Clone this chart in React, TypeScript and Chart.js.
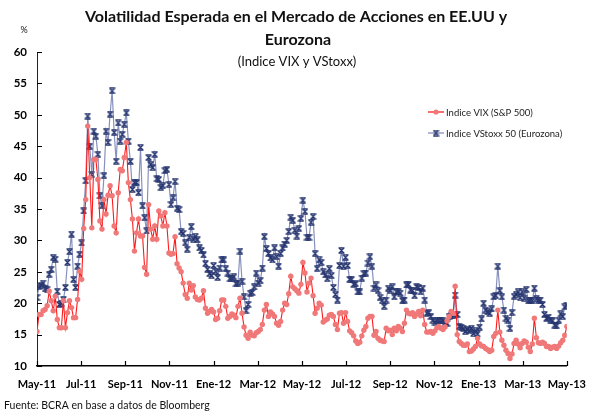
import { useEffect, useRef } from "react";
import { Chart, registerables } from "chart.js";

Chart.register(...registerables);

const tickLabels = ["May-11", "Jul-11", "Sep-11", "Nov-11", "Ene-12", "Mar-12", "May-12", "Jul-12", "Sep-12", "Nov-12", "Ene-13", "Mar-13", "May-13"];
const seriesNames = ["Indice VIX (S&P 500)", "Indice VStoxx 50 (Eurozona)"];
const yTicks = [10, 15, 20, 25, 30, 35, 40, 45, 50, 55, 60];

// Indice VIX (S&P 500), sampled every second trading day, May-11 .. May-13
const vix = [
  15.5, 18.2, 18.2, 18.8, 19.0, 19.6, 21.9, 20.4, 18.8, 21.1,
  17.4, 16.1, 16.1, 20.4, 16.1, 18.5, 20.4, 19.3, 17.7, 17.7,
  20.6, 25.1, 23.8, 31.9, 36.5, 48.2, 40.0, 32.0, 42.9, 42.9,
  39.7, 33.1, 31.8, 36.5, 34.2, 37.2, 38.7, 37.1, 32.3, 31.2,
  37.6, 41.3, 41.1, 43.2, 45.6, 39.2, 36.5, 33.4, 28.3, 31.2,
  33.4, 30.7, 30.7, 25.7, 24.6, 35.7, 31.8, 30.2, 32.3, 30.2,
  34.7, 33.9, 32.3, 34.4, 32.3, 28.0, 27.8,
  27.9, 30.6, 26.3, 25.6, 25.0, 23.2, 21.4, 20.8, 23.2, 22.1,
  22.8, 21.0, 20.6, 20.5, 20.8, 22.0, 19.2, 18.4, 18.7, 19.0,
  18.6, 17.4, 17.6, 18.8, 20.5, 20.5, 19.5, 17.6, 17.9, 18.3,
  18.1, 17.7, 19.5, 20.8, 18.4, 16.2, 14.9, 14.4, 15.4, 14.9,
  14.8, 15.3, 15.5, 15.8, 16.6, 18.9, 19.8, 17.9, 18.6, 18.3,
  17.9, 16.8, 16.5, 17.1, 18.9, 20.0, 19.8, 21.5, 24.3, 22.6,
  22.3, 22.0, 21.6, 23.0, 26.5,
  24.8, 21.8, 23.2, 24.0, 21.2, 18.4, 19.2, 20.0, 19.7, 17.0,
  17.3, 17.5, 18.1, 18.2, 17.9, 16.6, 15.8, 18.4, 18.5, 16.8,
  18.5, 17.1, 15.6, 15.3, 14.8, 14.0, 13.6, 13.8, 14.8, 15.7,
  16.3, 17.6, 17.9, 17.9, 14.9, 15.5, 14.4, 14.1, 14.0, 13.9,
  16.0, 15.6, 15.7, 15.0, 16.0, 15.6, 16.3, 16.0, 15.5, 16.8,
  18.9, 18.4, 18.3, 18.5, 17.9, 18.3, 18.7, 18.0, 18.9, 16.6,
  15.4, 15.4, 15.5, 15.2, 15.6,
  16.1, 16.3, 16.0, 15.8, 16.2, 17.2, 17.9, 18.7, 18.4, 22.7,
  15.0, 13.9, 13.6, 13.3, 13.3, 13.5, 12.3, 12.4, 12.7, 13.1,
  14.4, 13.5, 13.2, 13.1, 12.8, 12.6, 12.3, 12.5, 14.7, 15.2,
  18.9, 15.4, 14.1, 13.3, 12.5, 12.0, 11.2, 11.9, 13.6, 14.1,
  13.5, 12.9, 13.6, 14.0, 13.8, 13.0, 12.3, 13.5, 17.6, 14.5,
  13.7, 13.6, 13.8, 13.6, 13.1, 13.1, 12.8, 13.0, 13.1, 12.8,
  13.2, 13.7, 14.1, 14.9, 16.3,
];

// Indice VStoxx 50 (Eurozona), same dates
const vstoxx = [
  20.9, 22.7, 22.8, 23.2, 22.3, 22.2, 24.6, 25.4, 27.3, 27.0,
  21.9, 19.8, 20.0, 20.6, 22.5, 26.5, 28.2, 31.0, 23.8, 22.5,
  25.9, 27.8, 29.6, 34.7, 39.5, 49.8, 45.0, 40.5, 47.4, 46.6,
  43.7, 37.1, 35.5, 40.3, 47.4, 45.6, 50.1, 53.8, 47.2, 42.6,
  48.7, 45.8, 46.9, 48.5, 50.3, 45.8, 42.6, 38.1, 39.2, 39.2,
  37.6, 44.8, 35.5, 33.6, 31.5, 43.2, 42.1, 41.6, 43.7, 39.8,
  39.7, 38.4, 38.7, 41.1, 41.3, 38.9, 35.7,
  36.8, 39.4, 35.1, 34.9, 31.4, 31.1, 29.6, 28.6, 30.5, 32.2,
  30.2, 30.6, 30.1, 28.8, 28.4, 27.7, 26.3, 25.4, 24.7, 24.4,
  26.0, 25.1, 24.1, 25.6, 26.9, 26.9, 25.5, 24.8, 23.9, 24.0,
  24.2, 23.1, 23.2, 28.3, 23.5, 21.0, 18.8, 19.8, 21.6, 21.7,
  22.6, 24.8, 23.2, 23.6, 25.6, 30.6, 28.7, 27.9, 27.2, 26.9,
  28.8, 27.4, 25.9, 27.9, 28.8, 29.4, 30.0, 31.4, 33.7, 33.2,
  31.6, 30.7, 31.9, 33.5, 36.4,
  34.6, 30.5, 30.5, 32.9, 33.8, 27.9, 25.5, 26.9, 26.5, 25.0,
  24.5, 23.9, 25.5, 24.4, 22.5, 21.4, 20.5, 26.0, 28.4, 25.9,
  27.3, 26.0, 23.8, 23.8, 23.0, 23.1, 21.8, 21.8, 24.0, 24.7,
  24.8, 26.4, 27.4, 25.9, 22.4, 22.9, 22.0, 20.9, 20.4, 19.5,
  20.5, 22.4, 22.0, 22.6, 21.0, 21.8, 21.8, 21.6, 20.4, 20.5,
  22.9, 23.0, 22.1, 22.0, 21.2, 22.6, 22.5, 21.8, 22.4, 20.5,
  18.4, 18.5, 17.9, 17.3, 16.9,
  17.3, 17.3, 17.3, 17.2, 17.0, 16.8, 17.9, 18.1, 18.1, 21.3,
  18.2, 16.3, 16.2, 16.0, 15.5, 15.8, 15.6, 16.0, 15.2, 15.6,
  15.1, 16.2, 17.5, 20.0, 18.9, 18.6, 18.4, 19.1, 21.0, 21.2,
  25.9, 22.0, 21.0, 18.9, 17.6, 17.3, 16.0, 18.5, 21.1, 21.4,
  21.8, 20.9, 21.8, 20.8, 22.2, 20.4, 20.5, 20.4, 22.4, 20.7,
  20.5, 20.5, 19.8, 18.2, 17.6, 17.8, 17.3, 17.2, 16.5, 16.4,
  17.3, 18.3, 17.9, 19.4, 19.7,
];

const FONT = "Lato, 'DejaVu Sans', sans-serif";
const RED_LINE = "#ff1a1a";
const RED_MARK = "#f07878";
const BLUE_LINE = "#8891bd";
const BLUE_MARK = "#26356f";

function makeCrossMarker(): HTMLCanvasElement {
  const c = document.createElement("canvas");
  c.width = 7;
  c.height = 7;
  const g = c.getContext("2d")!;
  g.strokeStyle = BLUE_MARK;
  g.lineWidth = 1.3;
  g.beginPath();
  g.moveTo(1, 1);
  g.lineTo(6, 6);
  g.moveTo(6, 1);
  g.lineTo(1, 6);
  g.moveTo(0.5, 0.8);
  g.lineTo(6.5, 0.8);
  g.moveTo(0.5, 6.2);
  g.lineTo(6.5, 6.2);
  g.stroke();
  return c;
}

export default function App() {
  const ref = useRef<HTMLCanvasElement | null>(null);

  useEffect(() => {
    if (!ref.current) return;
    const n = vix.length;
    const months = (tickLabels.length - 1) * 2;
    const toXY = (arr: number[]) => arr.map((v, i) => ({ x: (i * months) / (n - 1), y: v }));
    const cross = makeCrossMarker();

    const decor = {
      id: "decor",
      afterDraw(chart: any) {
        const { ctx, chartArea, scales } = chart;
        const xs = scales.x;
        const ys = scales.y;
        ctx.save();
        // inner tick marks
        ctx.strokeStyle = "#000";
        ctx.lineWidth = 1;
        yTicks.forEach((v) => {
          const y = Math.round(ys.getPixelForValue(v)) + 0.5;
          ctx.beginPath();
          ctx.moveTo(chartArea.left, y);
          ctx.lineTo(chartArea.left + 5, y);
          ctx.stroke();
        });
        ctx.lineWidth = 1.2;
        tickLabels.forEach((_, k) => {
          const x = Math.round(xs.getPixelForValue(k * 2)) + 0.5;
          ctx.beginPath();
          ctx.moveTo(x, chartArea.bottom);
          ctx.lineTo(x, chartArea.bottom - 5);
          ctx.stroke();
        });
        // titles
        ctx.fillStyle = "#111";
        ctx.textAlign = "center";
        ctx.textBaseline = "middle";
        ctx.font = `bold 16px ${FONT}`;
        ctx.fillText("Volatilidad Esperada en el Mercado de Acciones en EE.UU y", 296, 17);
        ctx.fillText("Eurozona", 298, 40);
        ctx.font = `13px ${FONT}`;
        ctx.fillText("(Indice VIX y VStoxx)", 297, 62);
        ctx.font = `9px ${FONT}`;
        ctx.fillText("%", 24, 30);
        // footnote
        ctx.textAlign = "left";
        ctx.font = `10.5px ${FONT}`;
        ctx.fillText("Fuente: BCRA en base a datos de Bloomberg", 4, 406);
        // legend
        const lx = 428;
        const rows = [112, 133];
        ctx.font = `9.5px ${FONT}`;
        rows.forEach((ry, k) => {
          ctx.strokeStyle = k === 0 ? RED_LINE : BLUE_LINE;
          ctx.lineWidth = 1.3;
          ctx.beginPath();
          ctx.moveTo(lx, ry);
          ctx.lineTo(lx + 16, ry);
          ctx.stroke();
          if (k === 0) {
            ctx.fillStyle = RED_MARK;
            ctx.beginPath();
            ctx.arc(lx + 8, ry, 2.6, 0, Math.PI * 2);
            ctx.fill();
          } else {
            ctx.drawImage(cross, lx + 8 - 3.5, ry - 3.5);
          }
          ctx.fillStyle = "#222";
          ctx.fillText(seriesNames[k], lx + 18, ry + 0.5);
        });
        ctx.restore();
      },
    };

    const chart = new Chart(ref.current, {
      type: "line",
      data: {
        datasets: [
          {
            label: seriesNames[0],
            data: toXY(vix),
            borderColor: RED_LINE,
            borderWidth: 1.1,
            backgroundColor: RED_MARK,
            pointBackgroundColor: RED_MARK,
            pointBorderColor: RED_MARK,
            pointBorderWidth: 0,
            pointRadius: 2.7,
            tension: 0,
          },
          {
            label: seriesNames[1],
            data: toXY(vstoxx),
            borderColor: BLUE_LINE,
            borderWidth: 1.2,
            pointStyle: cross as any,
            pointRadius: 3,
            tension: 0,
          },
        ],
      },
      options: {
        responsive: false,
        animation: false,
        events: [],
        layout: { padding: { top: 52, right: 18, bottom: 0, left: 0 } },
        plugins: {
          legend: { display: false },
          title: { display: false },
          tooltip: { enabled: false },
        },
        scales: {
          x: {
            type: "linear",
            min: 0,
            max: months,
            afterFit: (s: any) => {
              s.height = 52;
            },
            afterBuildTicks: (s: any) => {
              s.ticks = tickLabels.map((_, k) => ({ value: k * 2 }));
            },
            ticks: {
              autoSkip: false,
              maxRotation: 0,
              padding: 12,
              color: "#000",
              font: { family: FONT, size: 11, weight: "bold" },
              callback: (v: any) => tickLabels[Math.round(Number(v) / 2)] ?? "",
            },
            grid: { display: false, drawTicks: false },
            border: { display: true, color: "#000", width: 1.6 },
          },
          y: {
            min: 10,
            max: 60,
            afterFit: (s: any) => {
              s.width = 37;
            },
            afterBuildTicks: (s: any) => {
              s.ticks = yTicks.map((v) => ({ value: v }));
            },
            ticks: {
              padding: 10,
              color: "#000",
              font: { family: FONT, size: 11.5, weight: "bold" },
            },
            grid: { display: false, drawTicks: false },
            border: { display: true, color: "#222", width: 1 },
          },
        },
      },
      plugins: [decor],
    });
    return () => chart.destroy();
  }, []);

  return (
    <div style={{ position: "absolute", left: 0, top: 0, width: 598, height: 418, background: "#fff" }}>
      <canvas ref={ref} width={598} height={418} />
    </div>
  );
}
